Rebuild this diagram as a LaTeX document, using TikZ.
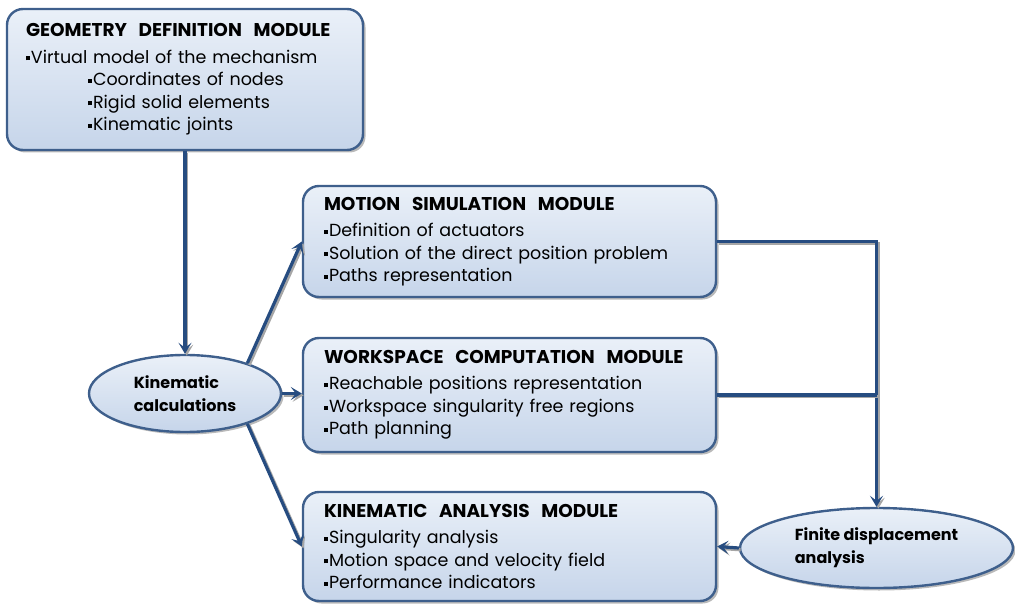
\documentclass[tikz,border=0pt]{standalone}
\usepackage{fontspec}
\setmainfont{Poppins}
\usetikzlibrary{arrows.meta,shapes.geometric,shadows}

\definecolor{boxline}{HTML}{3E5F8C}
\definecolor{boxtop}{HTML}{EAF0F8}
\definecolor{boxbot}{HTML}{C6D5EA}
\definecolor{linkblue}{HTML}{264C80}

\newcommand{\bul}{\raisebox{0.3ex}{\rule{4pt}{4pt}}\hspace{1pt}}
\newcommand{\modtitle}[1]{{\bfseries\fontsize{18.5}{25}\selectfont #1}\\[4pt]}

\tikzset{
  module/.style={draw=boxline, line width=2.4pt, rounded corners=16pt,
    top color=boxtop, bottom color=boxbot,
    drop shadow={shadow xshift=2.5pt, shadow yshift=-2.5pt, fill=black!50, opacity=0.55},
    align=left, inner xsep=21pt, inner ysep=0pt, font=\fontsize{17.5}{22.5}\selectfont},
  task/.style={ellipse, draw=boxline, line width=2.4pt,
    top color=boxtop, bottom color=boxbot,
    drop shadow={shadow xshift=2.5pt, shadow yshift=-2.5pt, fill=black!50, opacity=0.55},
    align=left, inner sep=0pt, font=\bfseries\fontsize{16}{23}\selectfont},
  link/.style={draw=linkblue, line width=3.2pt,
    preaction={draw=black!35, line width=3.2pt, transform canvas={shift={(1.8pt,-1.8pt)}}}},
  tip/.style={-{Stealth[length=11pt,width=13pt,inset=5pt]}}
}

\begin{document}
\begin{tikzpicture}[x=1pt,y=-1pt]
\useasboundingbox (0,0) rectangle (1015,604);

\node[module, text width=318pt, inner xsep=19pt, minimum height=141pt] (geo) at (185,79.5)
  {\modtitle{GEOMETRY\ \ DEFINITION\ \ MODULE}
   \bul Virtual model of the mechanism\\
   \hspace*{62pt}\bul Coordinates of nodes\\
   \hspace*{62pt}\bul Rigid solid elements\\
   \hspace*{62pt}\bul Kinematic joints};

\node[module, text width=371pt, minimum height=111pt] (motion) at (509.5,241.5)
  {\modtitle{MOTION\ \ SIMULATION\ \ MODULE}
   \bul Definition of actuators\\
   \bul Solution of the direct position problem\\
   \bul Paths representation};

\node[module, text width=371pt, minimum height=114pt] (work) at (509.5,395)
  {\modtitle{WORKSPACE\ \ COMPUTATION\ \ MODULE}
   \bul Reachable positions representation\\
   \bul Workspace singularity free regions\\
   \bul Path planning};

\node[module, text width=371pt, minimum height=109pt] (kinan) at (509.5,546.5)
  {\modtitle{KINEMATIC\ \ ANALYSIS\ \ MODULE}
   \bul Singularity analysis\\
   \bul Motion space and velocity field\\
   \bul Performance indicators};

\node[task, minimum width=192pt, minimum height=77pt] (kin) at (185,393.5)
  {Kinematic\\calculations};
\node[task, minimum width=273pt, minimum height=80pt] (finite) at (876.5,548)
  {Finite displacement\\analysis};

\draw[link,tip] (geo.south) -- (kin.north);
\draw[link,tip] (kin.26) -- (motion.west);
\draw[link,tip] (kin.east) -- (kin.east -| work.west);
\draw[link,tip] (kin.-26) -- (kinan.west);
\draw[link,tip] (motion.east) -| (finite.north);
\draw[link] (work.east) -- (work.east -| finite.north);
\draw[link,tip] (finite.west) -- (kinan.east);
\end{tikzpicture}
\end{document}
